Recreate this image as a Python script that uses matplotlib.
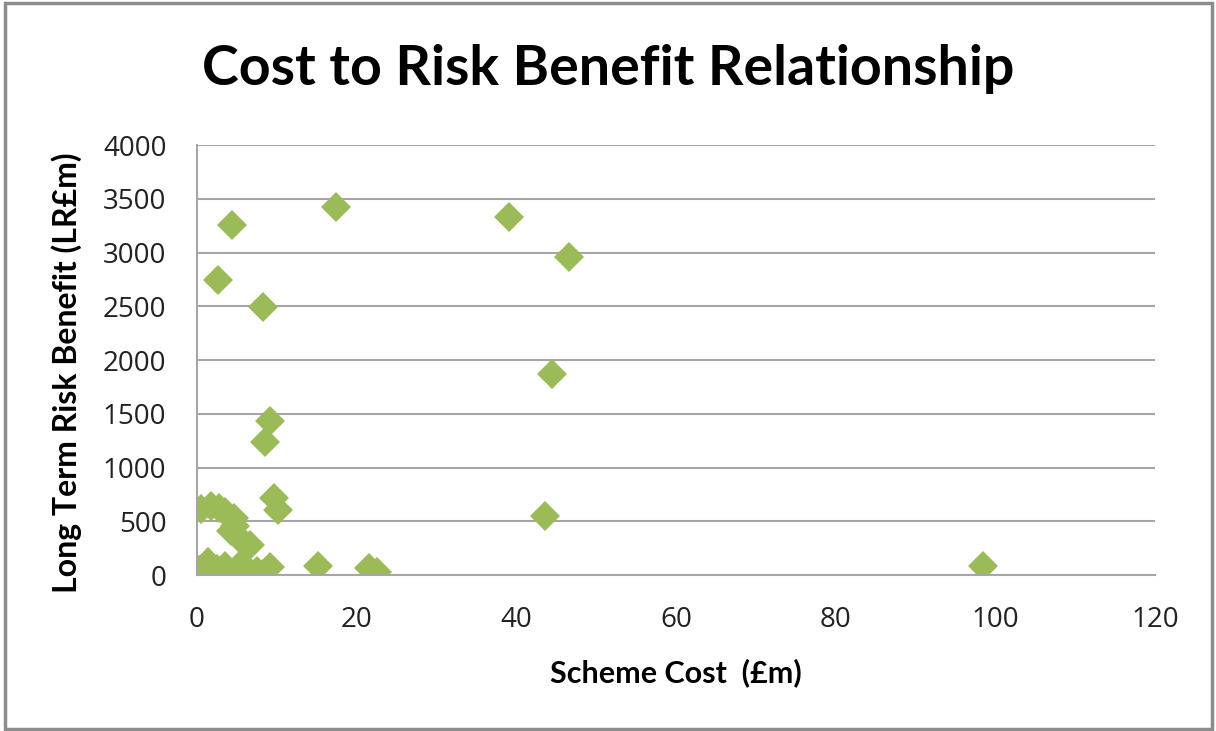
import matplotlib.pyplot as plt
from matplotlib.patches import Rectangle

# scheme cost (£m) and long-term risk benefit (LR£m)
scheme_cost = [17.4, 39.1, 46.6, 4.4, 2.6, 8.3, 44.5, 9.1, 8.5, 9.6, 10.1, 43.6,
               0.5, 1.8, 2.8, 3.5, 4.6, 4.2, 4.8, 5.5, 6.6,
               0.2, 1.0, 1.4, 2.5, 2.8, 3.5, 4.9, 5.5, 6.8, 7.5, 8.3, 9.1,
               15.2, 21.5, 22.5, 98.5]
risk_benefit = [3420, 3330, 2958, 3255, 2745, 2495, 1870, 1435, 1235, 715, 605, 550,
                610, 640, 620, 590, 530, 410, 460, 330, 275,
                50, 20, 120, 60, 10, 80, 15, 100, 15, 40, 10, 75,
                84, 62, 31, 84]

x_ticks = [0, 20, 40, 60, 80, 100, 120]
y_ticks = [0, 500, 1000, 1500, 2000, 2500, 3000, 3500, 4000]

fig = plt.figure(figsize=(12.16, 7.31), dpi=100)
ax = fig.add_axes([0.162, 0.2134, 0.7878, 0.5882])

ax.plot(scheme_cost, risk_benefit, linestyle='none', marker='D', markersize=15,
        color='#9bbb59', markeredgewidth=0)

ax.set_xlim(0, 120)
ax.set_ylim(0, 4000)
ax.set_xticks(x_ticks)
ax.set_yticks(y_ticks)
ax.yaxis.grid(True, color='#a6a6a6', linewidth=1.5)
ax.set_axisbelow(True)
for side in ['top', 'right']:
    ax.spines[side].set_visible(False)
for side in ['left', 'bottom']:
    ax.spines[side].set_color('#a6a6a6')
    ax.spines[side].set_linewidth(1.5)
ax.tick_params(length=0, labelsize=20, colors='#222222', pad=22)
for lbl in ax.get_xticklabels() + ax.get_yticklabels():
    lbl.set_family('Open Sans')

ax.set_xlabel('Scheme Cost  (£m)', fontsize=22, fontweight='bold', family='Lato', labelpad=18)
ax.set_ylabel('Long Term Risk Benefit (LR£m)', fontsize=23, fontweight='bold', family='Lato')
ax.yaxis.set_label_coords(-0.12, 0.47)
fig.text(0.5, 0.905, 'Cost to Risk Benefit Relationship', ha='center', va='center',
         fontsize=40, fontweight='bold', family='Lato')

# chart frame
fig.patches.append(Rectangle((0.004, 0.003), 0.993, 0.993, transform=fig.transFigure,
                             fill=False, edgecolor='#8c8c8c', linewidth=2.5))

fig.savefig('out.png', dpi=100)
